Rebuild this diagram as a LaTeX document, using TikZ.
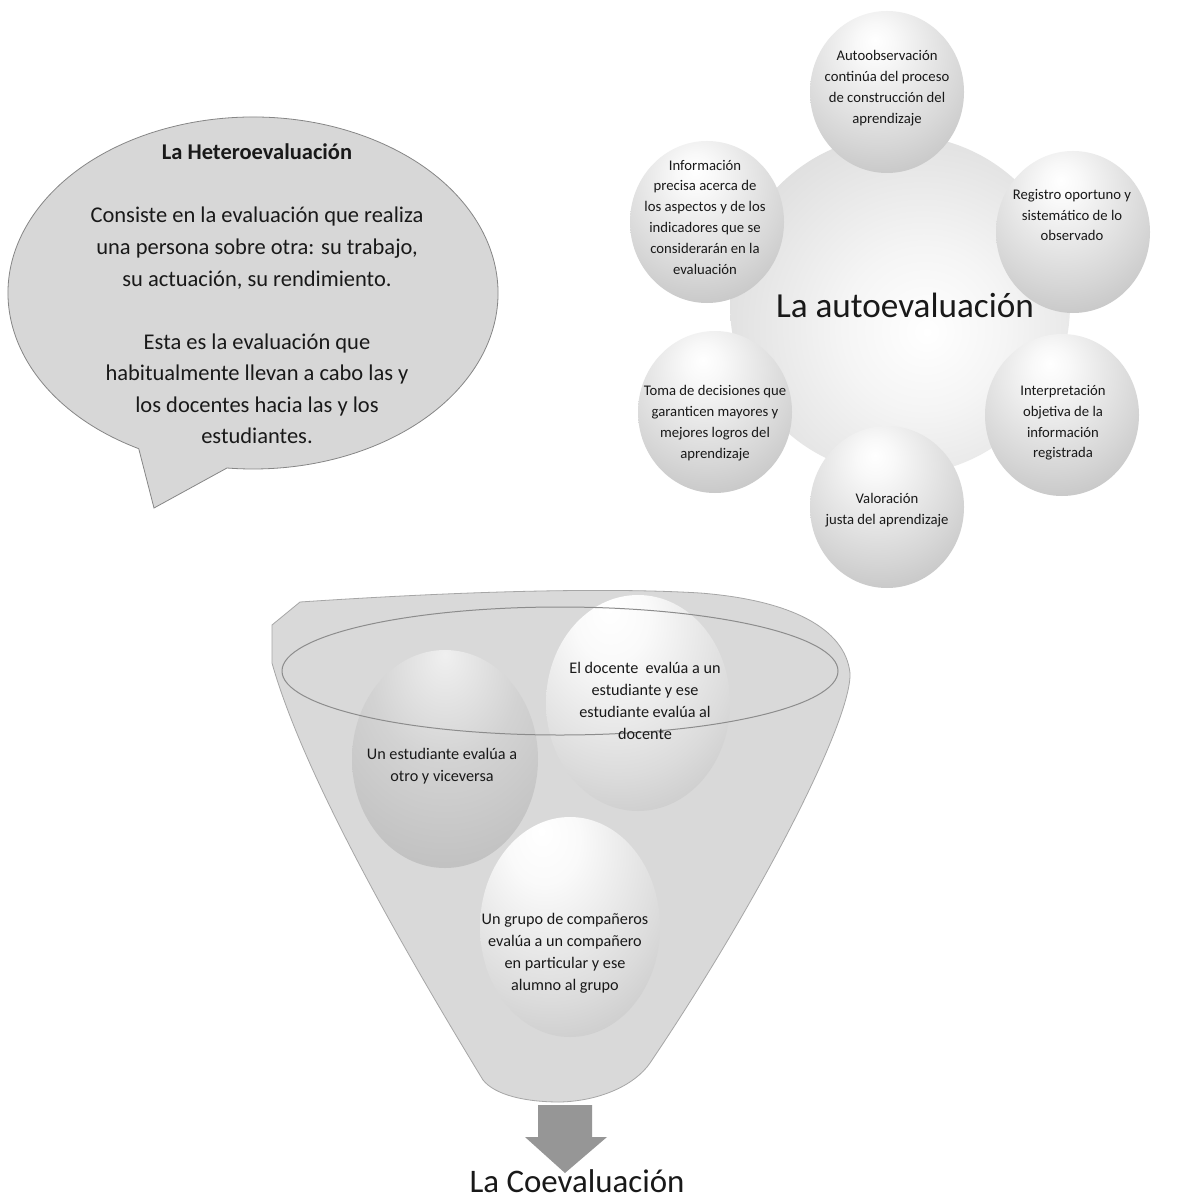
\documentclass[tikz,border=0pt]{standalone}
\usepackage{fontspec}
\setmainfont{Carlito}
\usetikzlibrary{calc}

% sphere-like fills
\pgfdeclareradialshading{satball}{\pgfpoint{-4bp}{16bp}}{color(0bp)=(white); color(6bp)=(gray!5); color(28bp)=(gray!32); color(45bp)=(gray!55); color(50bp)=(gray!62); color(100bp)=(gray!62)}
\pgfdeclareradialshading{hubball}{\pgfpoint{4bp}{-4bp}}{color(0bp)=(white); color(12bp)=(gray!8); color(35bp)=(gray!30); color(50bp)=(gray!50); color(100bp)=(gray!50)}
\pgfdeclareradialshading{eggdark}{\pgfpoint{0bp}{24bp}}{color(0bp)=(gray!12); color(20bp)=(gray!35); color(42bp)=(gray!50); color(50bp)=(gray!58); color(100bp)=(gray!58)}
\pgfdeclareradialshading{egglight}{\pgfpoint{-8bp}{22bp}}{color(0bp)=(white); color(10bp)=(gray!4); color(32bp)=(gray!28); color(50bp)=(gray!52); color(100bp)=(gray!52)}

\definecolor{inkgray}{gray}{0.1}

\tikzset{
  bubble/.style={fill=gray!31, draw=gray!95, line width=0.8pt},
  funnelbody/.style={fill=gray!30, draw=gray!70, line width=0.8pt},
  ring/.style={draw=gray!90, line width=1pt},
  blockarrow/.style={fill=gray!82},
  sat/.style={shading=satball},
  hub/.style={shading=hubball},
  eggA/.style={shading=eggdark},
  eggB/.style={shading=egglight},
  bubtext/.style={inner sep=0pt, align=center, text=inkgray, font=\fontsize{22.5}{31.55}\selectfont},
  sattext/.style={inner sep=0pt, align=center, text=inkgray, font=\fontsize{14.7}{20.8}\selectfont},
  eggtext/.style={inner sep=0pt, align=center, text=inkgray, font=\fontsize{16.2}{22}\selectfont},
  bigtext/.style={inner sep=0pt, text=inkgray, font=\fontsize{35.2}{40}\selectfont},
}

\begin{document}
\begin{tikzpicture}[x=1pt,y=-1pt]
\useasboundingbox (0,0) rectangle (1176,1201);
\fill[white] (0,0) rectangle (1176,1201);

% ---- speech bubble ----
\coordinate (bubc) at (253,293);
\coordinate (tip) at (154,508);
\filldraw[bubble] ($(bubc)+(117.8:245 and 176)$)
  arc[start angle=117.8, end angle=456.1, x radius=245, y radius=176]
  -- (tip) -- cycle;
\node[bubtext] (hetero) at (257,294) {\textbf{La Heteroevaluación}\\[31.55pt]
  Consiste en la evaluación que realiza\\
  una persona sobre otra: su trabajo,\\
  su actuación, su rendimiento.\\[31.55pt]
  Esta es la evaluación que\\
  habitualmente llevan a cabo las y\\
  los docentes hacia las y los\\
  estudiantes.};

% ---- self-assessment cluster ----
\shade[hub] (900,305) circle[radius=170];
\shade[sat] (887,92)   ellipse[x radius=77, y radius=81];
\shade[sat] (707,222)  ellipse[x radius=77, y radius=81];
\shade[sat] (1073,232) ellipse[x radius=77, y radius=81];
\shade[sat] (1062,415) ellipse[x radius=77, y radius=81];
\shade[sat] (887,507)  ellipse[x radius=77, y radius=81];
\shade[sat] (715,412)  ellipse[x radius=77, y radius=81];

\node[bigtext] (auto) at (905,305) {La autoevaluación};
\node[sattext] (s1) at (887,88) {Autoobservación\\continúa del proceso\\de construcción del\\aprendizaje};
\node[sattext] (s2) at (1072,215) {Registro oportuno y\\sistemático de lo\\observado};
\node[sattext] (s3) at (1063,423) {Interpretación\\objetiva de la\\información\\registrada};
\node[sattext] (s4) at (887,510) {Valoración\\justa del aprendizaje};
\node[sattext] (s5) at (715,423) {Toma de decisiones que\\garanticen mayores y\\mejores logros del\\aprendizaje};
\node[sattext] (s6) at (705,217) {Información\\precisa acerca de\\los aspectos y de los\\indicadores que se\\considerarán en la\\evaluación};

% ---- peer-assessment funnel ----
\filldraw[funnelbody] (272,625) -- (300,602)
  .. controls (450,592) and (600,587) .. (700,593)
  .. controls (790,600) and (845,628) .. (850,673)
  .. controls (852,720) and (760,900) .. (650,1063)
  .. controls (635,1085) and (600,1101) .. (560,1102)
  .. controls (525,1102) and (495,1095) .. (483,1080)
  .. controls (410,960) and (305,780) .. (272,663) -- cycle;

\shade[eggA] (445,759) ellipse[x radius=93, y radius=109];
\shade[eggB] (638,703) ellipse[x radius=92, y radius=108];
\shade[eggB] (570,927) ellipse[x radius=90, y radius=110];

\draw[ring] (560,671) ellipse[x radius=278, y radius=64];

\node[eggtext] (c1) at (442,766) {Un estudiante evalúa a\\otro y viceversa};
\node[eggtext] (c2) at (645,701) {El docente~ evalúa a un\\estudiante y ese\\estudiante evalúa al\\docente};
\node[eggtext] (c3) at (565,953) {Un grupo de compañeros\\evalúa a un compañero\\en particular y ese\\alumno al grupo};

\fill[blockarrow] (538,1105) -- (592,1105) -- (592,1137) -- (607,1137)
  -- (565,1173) -- (525,1137) -- (538,1137) -- cycle;
\node[inner sep=0pt, text=inkgray, font=\fontsize{32.9}{38}\selectfont] (coev) at (577,1181) {La Coevaluación};
\end{tikzpicture}
\end{document}
